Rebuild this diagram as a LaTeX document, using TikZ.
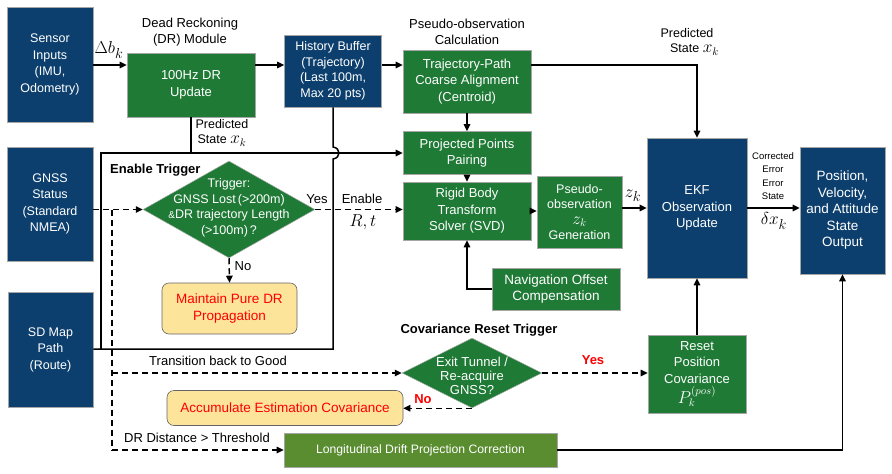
\documentclass[tikz,border=0pt]{standalone}
\usepackage{fontspec}
\setmainfont{Liberation Sans}
\usetikzlibrary{arrows.meta,shapes.geometric}
\definecolor{dblue}{HTML}{0C3F6D}
\definecolor{dgreen}{HTML}{1F7A36}
\definecolor{ogreen}{HTML}{5A8C30}
\definecolor{pale}{HTML}{FDE49B}
\newcommand{\mymath}[1]{{\fontsize{16}{16}\selectfont$#1$}}
\tikzset{
  box/.style={draw=gray!70, line width=0.6pt, text=white, align=center, inner sep=0pt, font=\fontsize{13}{16.5}\selectfont},
  bluebox/.style={box, fill=dblue},
  greenbox/.style={box, fill=dgreen},
  ybox/.style={draw=gray!80!black, line width=0.6pt, fill=pale, rounded corners=7pt, text=red, align=center, inner sep=0pt, font=\fontsize{13.5}{17}\selectfont},
  dia/.style={diamond, draw=gray!60, line width=0.5pt, fill=dgreen, inner sep=0pt},
  ln/.style={line width=1.5pt},
  arr/.style={ln, -{Triangle[length=7pt,width=6.5pt]}},
  darr/.style={arr, dash pattern=on 6pt off 4pt},
  dln/.style={ln, dash pattern=on 6pt off 4pt},
  lbl/.style={align=center, inner sep=0pt, font=\fontsize{12.5}{15.5}\selectfont},
  hd/.style={align=center, inner sep=0pt, font=\bfseries\fontsize{13}{15}\selectfont},
  redlbl/.style={inner sep=0pt, text=red, font=\bfseries\fontsize{13}{15}\selectfont},
  mth/.style={inner sep=0pt, font=\fontsize{19}{20}\selectfont},
}
\begin{document}
\begin{tikzpicture}[x=1pt,y=-1pt]
\useasboundingbox (0,0) rectangle (892,474);
% nodes
\node[bluebox, font=\fontsize{12.5}{16.5}\selectfont, minimum width=86pt, minimum height=115pt] (sensor) at (50,64.5) {Sensor\\Inputs\\(IMU,\\Odometry)};
\node[bluebox, font=\fontsize{12.5}{16.5}\selectfont, minimum width=86pt, minimum height=114pt] (gnss) at (50,204) {GNSS\\Status\\(Standard\\NMEA)};
\node[bluebox, font=\fontsize{12.5}{16.5}\selectfont, minimum width=85pt, minimum height=115pt] (sdmap) at (50.5,349.5) {SD Map\\Path\\(Route)};
\node[greenbox, minimum width=128pt, minimum height=64pt] (dr) at (191,85) {100Hz DR\\Update};
\node[bluebox, font=\fontsize{12.5}{15.5}\selectfont, minimum width=97pt, minimum height=72pt] (hb) at (333,71) {History Buffer\\(Trajectory)\\(Last 100m,\\Max 20 pts)};
\node[greenbox, minimum width=128pt, minimum height=63pt] (traj) at (467,81.5) {Trajectory-Path\\Coarse Alignment\\(Centroid)};
\node[greenbox, minimum width=128pt, minimum height=43pt] (ppp) at (467,153) {Projected Points\\Pairing};
\node[greenbox, minimum width=128pt, minimum height=58pt] (rbts) at (467,211) {Rigid Body\\Transform\\Solver (SVD)};
\node[greenbox, font=\fontsize{12.5}{15.5}\selectfont, minimum width=85pt, minimum height=72pt] (pgen) at (579.5,212) {Pseudo-\\observation\\\mymath{z_k}\\Generation};
\node[bluebox, minimum width=100pt, minimum height=140pt] (ekf) at (697,208) {EKF\\Observation\\Update};
\node[bluebox, font=\fontsize{13.5}{16.5}\selectfont, minimum width=85pt, minimum height=127pt] (out) at (842.5,210.5) {Position,\\Velocity,\\and Attitude\\State\\Output};
\node[greenbox, font=\fontsize{13.5}{16.5}\selectfont, minimum width=128pt, minimum height=42pt] (noc) at (556,289) {Navigation Offset\\Compensation};
\node[greenbox, minimum width=98pt, minimum height=78pt] (reset) at (697,374) {Reset\\Position\\Covariance\\[2pt]\mymath{P_k^{(pos)}}};
\node[ybox, minimum width=135pt, minimum height=51pt] (maint) at (229.5,308.5) {Maintain Pure DR\\Propagation};
\node[ybox, minimum width=236pt, minimum height=35pt] (accum) at (285,408) {Accumulate Estimation Covariance};
\node[box, fill=ogreen, font=\fontsize{12.2}{15}\selectfont, minimum width=273pt, minimum height=34pt] (ldpc) at (420.5,450) {Longitudinal Drift Projection Correction};
\node[dia, minimum width=172pt, minimum height=97pt] (trig) at (229,209.5) {};
\node[align=center, text=white, inner sep=0pt, font=\fontsize{12.5}{15.5}\selectfont] (trigt) at (229,208) {Trigger:\\GNSS Lost\,(>200m)\\{\fontsize{10}{12}\selectfont\&}DR trajectory Length\\(>100m)\,?};
\node[dia, minimum width=140pt, minimum height=70pt] (exit) at (472,373) {};
\node[align=center, text=white, inner sep=0pt, font=\fontsize{13}{14}\selectfont] (exitt) at (472,376) {Exit Tunnel /\\Re-acquire\\GNSS?};
% labels
\node[lbl, font=\fontsize{13}{16.5}\selectfont] (l1) at (190,32) {Dead Reckoning\\(DR) Module};
\node[lbl, font=\fontsize{13}{16.5}\selectfont] (l2) at (467,32) {Pseudo-observation\\Calculation};
\node[lbl] (l3) at (222,133) {Predicted\\State \mymath{x_k}};
\node[lbl] (l4) at (687,42) {Predicted\\\hspace*{1.2em}State \mymath{x_k}};
\node[hd, anchor=west] (l5) at (110,170) {Enable Trigger};
\node[hd] (l6) at (479,330) {Covariance Reset Trigger};
\node[lbl, font=\fontsize{13}{15}\selectfont] (l7) at (218,361) {Transition back to Good};
\node[lbl, font=\fontsize{13}{15}\selectfont] (l8) at (197,438) {DR Distance > Threshold};
\node[lbl, font=\fontsize{9.5}{13.4}\selectfont] (l9) at (773,176) {Corrected\\Error\\Error\\State};
\node[mth] (l10) at (774,221) {$\delta x_k$};
\node[mth] (l11) at (633,196) {$z_k$};
\node[mth] (l12) at (109,50) {$\Delta b_k$};
\node[lbl, font=\fontsize{13}{15}\selectfont] (l13) at (317,199) {Yes};
\node[lbl, font=\fontsize{13}{15}\selectfont] (l14) at (362,199) {Enable};
\node[mth, font=\fontsize{18}{20}\selectfont] (l15) at (363,222) {$R,t$};
\node[lbl, font=\fontsize{13}{15}\selectfont] (l16) at (243,266) {No};
\node[redlbl] (l17) at (593,360) {Yes};
\node[redlbl] (l18) at (423,399) {No};
% coordinates
\coordinate (r1) at (0,65);
\coordinate (top) at (0,153);
\coordinate (bot) at (0,349);
\coordinate (fl) at (101,349);
\coordinate (fr) at (333,349);
\coordinate (hopa) at (333,159);
\coordinate (hopb) at (333,147);
\coordinate (flt) at (101,153);
\coordinate (dv) at (112,209.5);
\coordinate (dm) at (112,373);
\coordinate (db) at (112,450);
% solid connectors
\draw[arr] (sensor.east |- r1) -- (dr.west |- r1);
\draw[arr] (dr.east |- r1) -- (hb.west |- r1);
\draw[arr] (hb.east |- r1) -- (traj.west |- r1);
\draw[arr] (traj.east |- r1) -- (ekf.north |- r1) -- (ekf.north);
\draw[ln] (dr.south) -- (dr.south |- top);
\draw[ln] (sdmap.east |- bot) -- (fr) -- (hopa) .. controls (341,158) and (341,148) .. (hopb) -- (hb.south);
\draw[arr] (fl) -- (flt) -- (ppp.west);
\draw[arr] (traj.south) -- (ppp.north);
\draw[arr] (ppp.south) -- (rbts.north);
\draw[arr] (rbts.east) -- (pgen.west |- rbts.east);
\draw[arr] (pgen.east |- ekf.west) -- (ekf.west);
\draw[arr] (ekf.east) -- (out.west |- ekf.east);
\draw[arr] (noc.west) -| (rbts.south);
\draw[arr] (reset.north) -- (ekf.south);
\draw[arr] (ldpc.east) -| (out.south);
% dashed connectors
\draw[darr] (gnss.east |- trig.west) -- (trig.west);
\draw[darr] (trig.east) -- (rbts.west |- trig.east);
\draw[darr] (trig.south) -- (maint.north);
\draw[dln] (dv) -- (db);
\draw[darr] (db) -- (ldpc.west |- db);
\draw[darr] (dm) -- (exit.west);
\draw[darr] (exit.east) -- (reset.west |- exit.east);
\draw[darr] (exit.south) -- (accum.east |- exit.south);
\end{tikzpicture}
\end{document}
